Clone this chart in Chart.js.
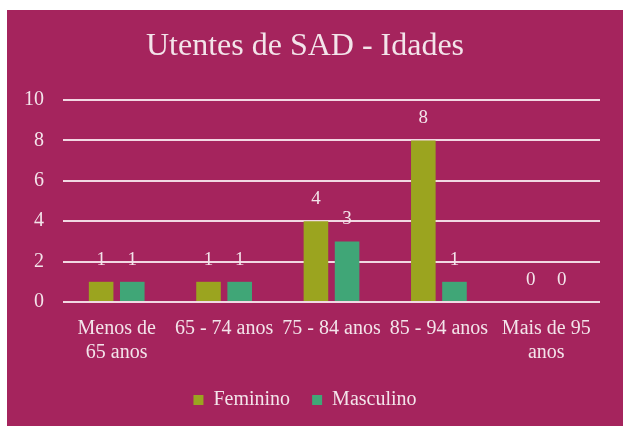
<!DOCTYPE html>
<html>
<head>
<meta charset="utf-8">
<script src="https://cdn.jsdelivr.net/npm/chart.js@4/dist/chart.umd.min.js"></script>
<style>
  html, body { margin: 0; padding: 0; background: #fff; }
  #wrap { width: 623px; height: 426px; }
</style>
</head>
<body>
<div id="wrap"><canvas id="myChart" width="623" height="426"></canvas></div>
<script>
const labels = [
  ['Menos de', '65 anos'],
  '65 - 74 anos',
  '75 - 84 anos',
  '85 - 94 anos',
  ['Mais de 95', 'anos']
];
const feminino = [1, 1, 4, 8, 0];
const masculino = [1, 1, 3, 1, 0];
const yTicks = [0, 2, 4, 6, 8, 10];

const serif = '"Liberation Serif", "DejaVu Serif", serif';
const textColor = '#f3e4ea';

// background of the scanned card: white margin, then the maroon panel
const background = {
  id: 'panel_bg',
  beforeDraw: (chart) => {
    const ctx = chart.ctx;
    ctx.save();
    ctx.fillStyle = '#ffffff';
    ctx.fillRect(0, 0, chart.width, chart.height);
    ctx.fillStyle = '#a5245d';
    ctx.fillRect(7, 10, chart.width - 7, chart.height - 10);
    ctx.restore();
  }
};

// value labels above each bar
const valueLabels = {
  id: 'value_labels',
  afterDatasetsDraw: (chart) => {
    const ctx = chart.ctx;
    ctx.save();
    ctx.font = '19px ' + serif;
    ctx.fillStyle = textColor;
    ctx.textAlign = 'center';
    ctx.textBaseline = 'middle';
    chart.data.datasets.forEach((ds, i) => {
      chart.getDatasetMeta(i).data.forEach((bar, j) => {
        ctx.fillText(ds.data[j], bar.x, bar.y - 22);
      });
    });
    ctx.restore();
  }
};

const data = {
  labels: labels,
  datasets: [{
    label: 'Feminino',
    backgroundColor: '#9ba41f',
    data: feminino,
  }, {
    label: 'Masculino',
    backgroundColor: '#40a677',
    data: masculino,
  }]
};

const config = {
  type: 'bar',
  data: data,
  options: {
    responsive: false,
    animation: false,
    layout: { padding: { left: 10, right: 23, top: 10, bottom: 6 } },
    datasets: {
      bar: { categoryPercentage: 0.58, barPercentage: 0.79 }
    },
    scales: {
      x: {
        grid: { display: false, drawTicks: false },
        border: { display: false },
        afterFit: (scale) => { scale.height = 66; },
        ticks: {
          color: textColor,
          font: { family: serif, size: 20, lineHeight: 1.2 },
          maxRotation: 0,
          autoSkip: false,
          padding: 15
        }
      },
      y: {
        min: 0,
        max: 10,
        afterBuildTicks: (scale) => { scale.ticks = yTicks.map(v => ({ value: v })); },
        afterFit: (scale) => { scale.width = 53; },
        grid: { color: '#f2d8e3', lineWidth: 2, drawTicks: false },
        border: { display: false },
        ticks: {
          color: textColor,
          font: { family: serif, size: 20 },
          padding: 19
        }
      }
    },
    plugins: {
      title: {
        display: true,
        text: 'Utentes de SAD - Idades',
        color: textColor,
        font: { family: serif, size: 32, weight: 'normal', lineHeight: 1.2 },
        padding: { top: 17, bottom: 34.6 }
      },
      legend: {
        position: 'bottom',
        labels: {
          color: textColor,
          font: { family: serif, size: 20 },
          boxWidth: 10,
          boxHeight: 10,
          padding: 22
        }
      },
      tooltip: { enabled: false }
    }
  },
  plugins: [background, valueLabels]
};

const myChart = new Chart(document.getElementById('myChart'), config);
</script>
</body>
</html>
